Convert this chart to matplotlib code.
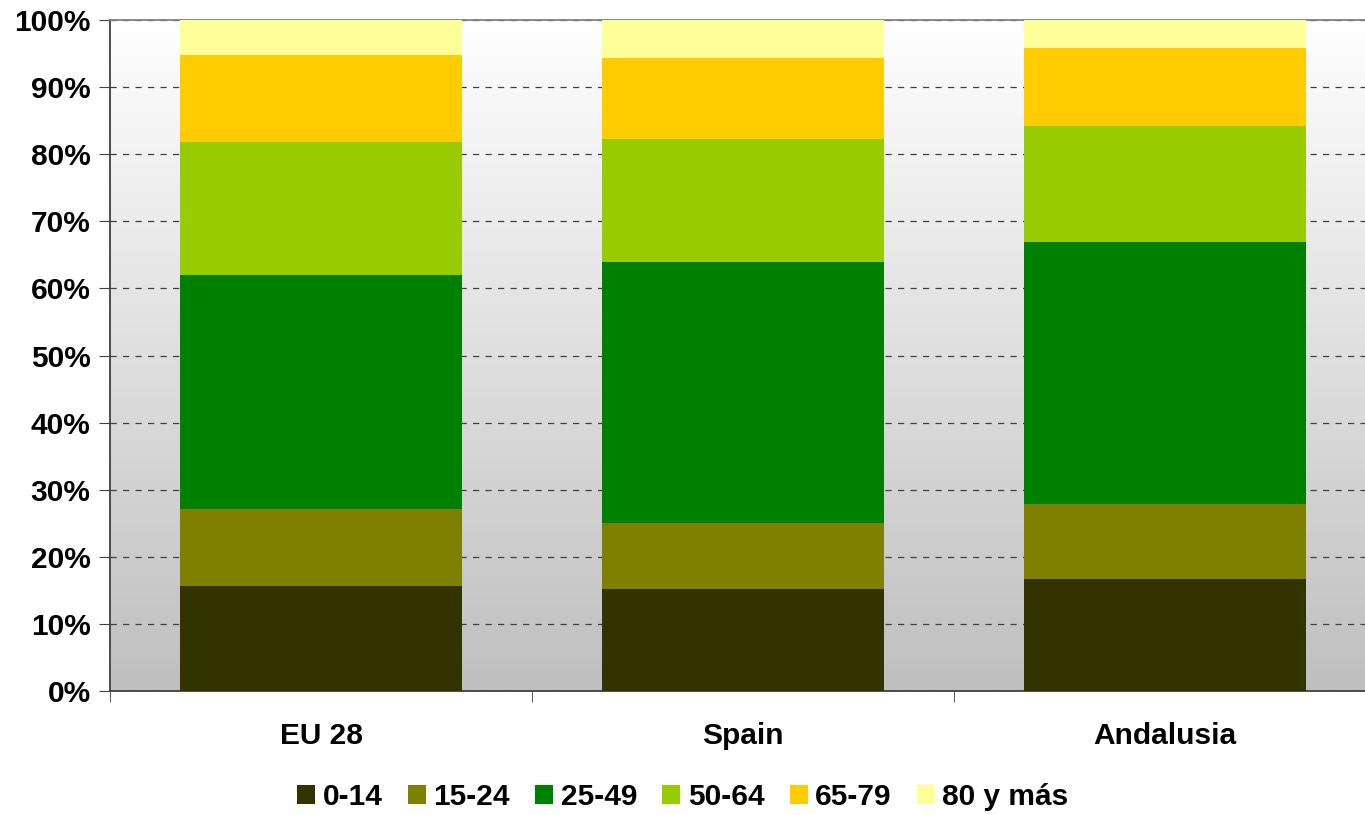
import numpy as np
import matplotlib.pyplot as plt
from matplotlib.colors import LinearSegmentedColormap
from matplotlib.ticker import PercentFormatter

plt.rcParams['font.family'] = ['Liberation Sans', 'DejaVu Sans']
plt.rcParams['font.weight'] = 'bold'

regions = ['EU 28', 'Spain', 'Andalusia']
groups = ['0-14', '15-24', '25-49', '50-64', '65-79', '80 y más']
colors = ['#333300', '#808000', '#008000', '#99CC00', '#FFCC00', '#FFFF99']

# share of population (%) per age group, per region
age_0_14 = [15.6, 15.2, 16.7]
age_15_24 = [11.5, 9.8, 11.2]
age_25_49 = [34.9, 38.9, 39.0]
age_50_64 = [19.8, 18.4, 17.3]
age_65_79 = [13.0, 12.0, 11.6]
age_80_plus = [5.2, 5.7, 4.2]

series = [age_0_14, age_15_24, age_25_49, age_50_64, age_65_79, age_80_plus]

fig = plt.figure(figsize=(13.65, 8.15), dpi=100)
ax = fig.add_axes([0.0806, 0.152, 0.9275, 0.8235])

# gradient background, white at top to grey at bottom
grad = np.linspace(0, 1, 256).reshape(-1, 1)
ax.imshow(grad, extent=[0, 1, 0, 1], transform=ax.transAxes, aspect='auto',
          cmap=LinearSegmentedColormap.from_list('bg', ['#FFFFFF', '#BFBFBF']),
          zorder=0)

x = np.arange(len(regions))
bottom = np.zeros(len(regions))
for vals, name, c in zip(series, groups, colors):
    vals = np.array(vals)
    ax.bar(x, vals, 0.67, bottom=bottom, color=c, label=name, zorder=3)
    bottom += vals

ax.set_xlim(-0.5, 2.5)
ax.set_ylim(0, 100)
ax.set_yticks(np.arange(0, 101, 10))
ax.yaxis.set_major_formatter(PercentFormatter(decimals=0))
ax.yaxis.grid(True, linestyle=(0, (5, 5)), color='#404040', linewidth=0.9, zorder=1)

ax.set_xticks(x)
ax.set_xticklabels(regions)
ax.set_xticks([-0.5, 0.5, 1.5, 2.5], minor=True)
ax.tick_params(axis='x', which='major', length=0, pad=22, labelsize=21.5)
ax.tick_params(axis='x', which='minor', length=8, color='#404040')
ax.tick_params(axis='y', length=8, color='#404040', labelsize=21.5, pad=6)

ax.spines['right'].set_visible(False)
ax.spines['top'].set_color('#808080')
ax.spines['left'].set_color('#404040')
ax.spines['bottom'].set_color('#404040')
for s in ax.spines.values():
    s.set_linewidth(1.3)

fig.legend(loc='center', bbox_to_anchor=(0.5004, 0.022), ncol=6, frameon=False,
           fontsize=21.5, handlelength=0.6, handleheight=0.6, handletextpad=0.25,
           columnspacing=0.85)

plt.savefig('out.png', dpi=100)
